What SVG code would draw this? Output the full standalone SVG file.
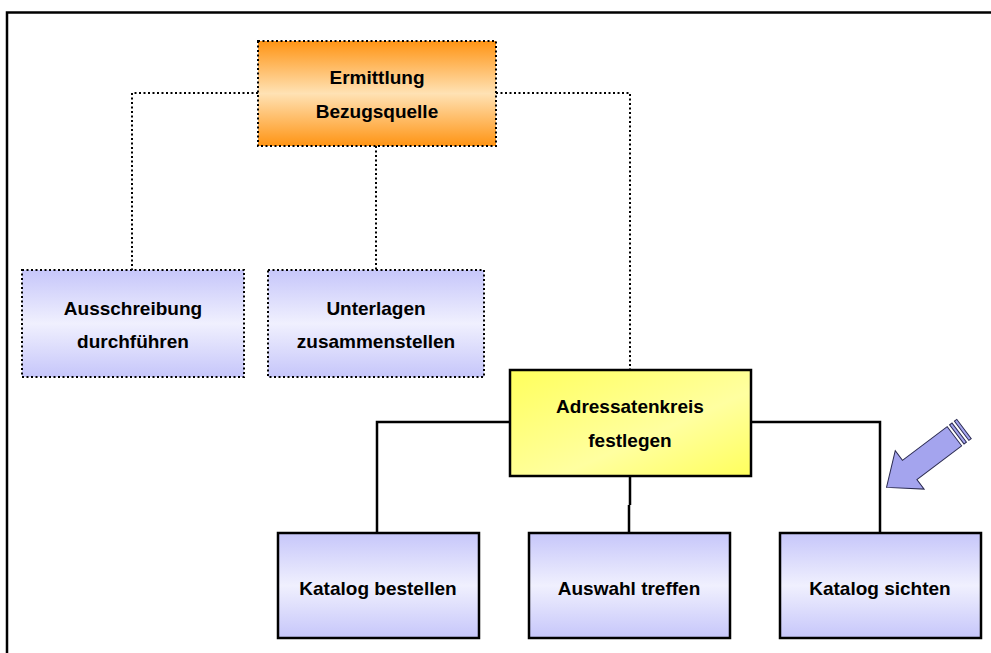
<svg xmlns="http://www.w3.org/2000/svg" width="991" height="653" viewBox="0 0 991 653">
<defs>
<linearGradient id="gOrange" x1="0" y1="0" x2="0" y2="1">
<stop offset="0" stop-color="#ff9414"/><stop offset="0.5" stop-color="#ffe2b4"/><stop offset="1" stop-color="#ff9414"/>
</linearGradient>
<linearGradient id="gLav" x1="0" y1="0" x2="0" y2="1">
<stop offset="0" stop-color="#c6c6fa"/><stop offset="0.5" stop-color="#f0f0fe"/><stop offset="1" stop-color="#c6c6fa"/>
</linearGradient>
<linearGradient id="gYel" x1="0" y1="0" x2="1" y2="1">
<stop offset="0" stop-color="#ffff5c"/><stop offset="0.6" stop-color="#ffffa0"/><stop offset="1" stop-color="#ffff5c"/>
</linearGradient>
<style>
.dot{stroke:#000;stroke-width:2;stroke-dasharray:2 2.5;fill:none}
.sol{stroke:#000;stroke-width:2.5;fill:none}
.t{font-family:"Liberation Sans",Arial,sans-serif;font-weight:bold;font-size:19px;fill:#000;text-anchor:middle}
</style>
</defs>
<rect width="991" height="653" fill="#fff"/>
<path d="M7,653 V12.5 H991" fill="none" stroke="#000" stroke-width="2.5"/>
<g id="connectors">
<path class="dot" d="M258,93 H132 V270"/>
<path class="dot" d="M376,146 V270"/>
<path class="dot" d="M496,93 H630 V370"/>
<path class="sol" d="M510,422 H377 V533"/>
<path class="sol" d="M751,422 H880 V533"/>
<path class="sol" d="M630,476 V505 M629,505 V533"/>
</g>
<g id="ermittlung">
<rect x="258" y="41" width="238" height="105" class="dot" style="fill:url(#gOrange)"/>
<text class="t" x="377" y="84">Ermittlung</text>
<text class="t" x="377" y="118">Bezugsquelle</text>
</g>
<g id="ausschreibung">
<rect x="22" y="270" width="222" height="107" class="dot" style="fill:url(#gLav)"/>
<text class="t" x="133" y="315">Ausschreibung</text>
<text class="t" x="133" y="348">durchführen</text>
</g>
<g id="unterlagen">
<rect x="268" y="270" width="216" height="107" class="dot" style="fill:url(#gLav)"/>
<text class="t" x="376" y="315">Unterlagen</text>
<text class="t" x="376" y="348">zusammenstellen</text>
</g>
<g id="adressatenkreis">
<rect x="510" y="370" width="241" height="106" class="sol" style="fill:url(#gYel)"/>
<text class="t" x="630" y="413">Adressatenkreis</text>
<text class="t" x="630" y="447">festlegen</text>
</g>
<g id="katalog-bestellen">
<rect x="278" y="533" width="201" height="105" class="sol" style="fill:url(#gLav)"/>
<text class="t" x="378" y="595">Katalog bestellen</text>
</g>
<g id="auswahl-treffen">
<rect x="529" y="533" width="201" height="105" class="sol" style="fill:url(#gLav)"/>
<text class="t" x="629" y="595">Auswahl treffen</text>
</g>
<g id="katalog-sichten">
<rect x="780" y="533" width="201" height="105" class="sol" style="fill:url(#gLav)"/>
<text class="t" x="880" y="595">Katalog sichten</text>
</g>
<g id="pointer" transform="translate(964,429) rotate(143)" fill="#a4a4ee" stroke="#2a2a50" stroke-width="1">
<rect x="0" y="-12" width="3" height="24"/>
<rect x="6" y="-12" width="3" height="24"/>
<polygon points="12,-12 68,-12 68,-24 97,0 68,24 68,12 12,12"/>
</g>
</svg>
